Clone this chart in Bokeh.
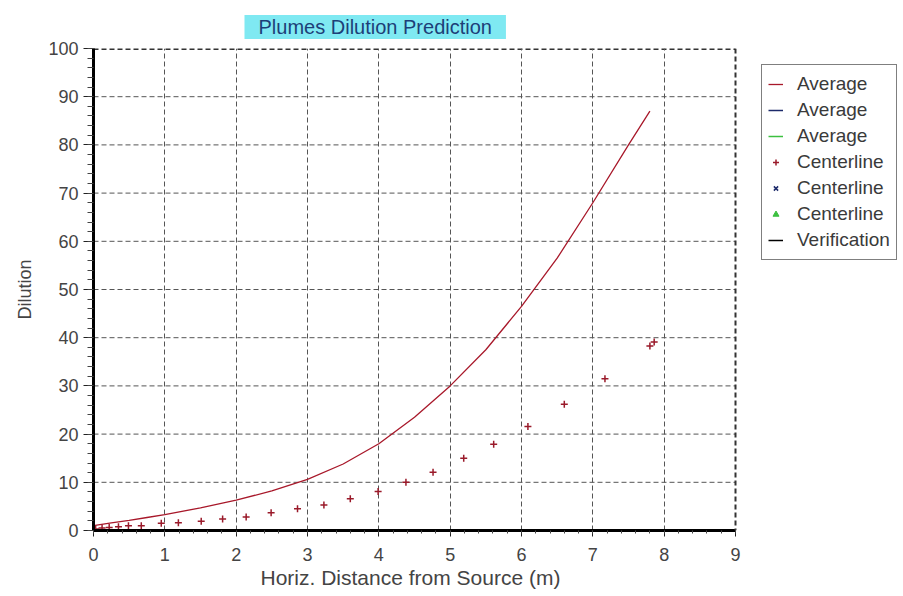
from bokeh.plotting import figure
from bokeh.models import Legend, LegendItem, Title, Span, FixedTicker, Range1d
from bokeh.embed import file_html
from bokeh.resources import INLINE

# ---- data ----
avg_x = [0, 0.25, 0.5, 0.75, 1.0, 1.5, 2.0, 2.5, 3.0, 3.5, 4.0, 4.5, 5.0, 5.5, 6.0, 6.5, 7.0, 7.5, 7.8]
avg_y = [1.0, 1.6, 2.1, 2.7, 3.3, 4.7, 6.3, 8.2, 10.6, 13.8, 18.0, 23.5, 30.0, 37.5, 46.5, 56.5, 68.0, 80.0, 87.0]

cl_x = [0.03, 0.12, 0.22, 0.35, 0.49, 0.67, 0.95, 1.19, 1.51, 1.81, 2.14, 2.49, 2.86,
        3.23, 3.6, 3.99, 4.38, 4.76, 5.19, 5.61, 6.09, 6.6, 7.17, 7.8, 7.86]
cl_y = [0.3, 0.5, 0.6, 0.8, 1.0, 1.0, 1.5, 1.6, 1.9, 2.4, 2.8, 3.7, 4.5,
        5.3, 6.6, 8.1, 10.0, 12.1, 15.0, 17.9, 21.6, 26.2, 31.5, 38.3, 39.1]

# series listed in the legend but with no visible data
no_x = [float("nan")]
no_y = [float("nan")]

x_ticks = [0, 1, 2, 3, 4, 5, 6, 7, 8, 9]
y_ticks = [0, 10, 20, 30, 40, 50, 60, 70, 80, 90, 100]
x_minor = [i * 0.2 for i in range(0, 46)]
y_minor = [i * 2 for i in range(0, 51)]

title_text = "Plumes Dilution Prediction"
x_label = "Horiz. Distance from Source (m)"
y_label = "Dilution"

FONT = "Liberation Sans"

# layout: plotting area 642 px wide for x 0..9; the frame continues to the right
# edge (blank) so the legend can sit there without being clipped
W, H = 900, 594
LEFT, TOP, BOTTOM = 93, 48, 64
AREA_W = 642
FRAME_W = W - LEFT
x_end = x_ticks[-1] * FRAME_W / AREA_W
x_lim = (x_ticks[0], x_ticks[-1])

p = figure(width=W, height=H, output_backend="svg", toolbar_location=None,
           x_range=Range1d(x_ticks[0], x_end), y_range=Range1d(y_ticks[0], y_ticks[-1]),
           min_border_left=LEFT, min_border_right=0, min_border_top=TOP, min_border_bottom=BOTTOM)
p.outline_line_color = None
p.background_fill_color = "white"
p.border_fill_color = "white"

# title box
p.title = Title(text=title_text, align="left", offset=151, standoff=19,
                text_font=FONT, text_font_size="20px", text_font_style="normal",
                text_color="#1d3f78", background_fill_color="#7fe9f2", padding=(14, 1))

# grid (horizontal lines limited to the 0..9 plotting area)
p.xgrid.ticker = FixedTicker(ticks=x_ticks[:-1])
p.xgrid.grid_line_color = "#555555"
p.xgrid.grid_line_dash = "5 3"
p.xgrid.grid_line_width = 1
p.ygrid.visible = False
gy = y_ticks[1:-1]
p.segment(x0=[x_lim[0]] * len(gy), x1=[x_lim[1]] * len(gy), y0=gy, y1=gy,
          line_color="#555555", line_dash="5 3", line_width=1, level="underlay")
# dashed top & right frame borders
p.segment(x0=[x_lim[0]], x1=[x_lim[1]], y0=[y_ticks[-1]], y1=[y_ticks[-1]],
          line_color="#333333", line_dash="5 3", line_width=3, level="underlay")
p.add_layout(Span(location=x_ticks[-1], dimension="height", line_color="#333333",
                  line_dash="5 3", line_width=2))

# curves / markers
r_avg1 = p.line(avg_x, avg_y, line_color="#a8182a", line_width=1.3)
r_avg2 = p.line(no_x, no_y, line_color="#1c2a6a", line_width=1.5)
r_avg3 = p.line(no_x, no_y, line_color="#3cc040", line_width=1.5)
r_cl1 = p.scatter(cl_x, cl_y, marker="cross", size=7, line_color="#9a1a2a", line_width=1.5)
r_cl2 = p.scatter(no_x, no_y, marker="x", size=6, line_color="#1c2a6a", line_width=1.5)
r_cl3 = p.scatter(no_x, no_y, marker="triangle", size=6, line_color="#3cc040", fill_color="#3cc040")
r_ver = p.line(no_x, no_y, line_color="black", line_width=1.5)

# axes
for ax, ticks, minor in ((p.xaxis[0], x_ticks, x_minor), (p.yaxis[0], y_ticks, y_minor)):
    ax.ticker = FixedTicker(ticks=ticks, minor_ticks=minor)
    ax.axis_line_color = "black"
    ax.axis_line_width = 3
    ax.major_tick_line_color = "#222222"
    ax.minor_tick_line_color = "#444444"
    ax.major_tick_in = 0
    ax.minor_tick_in = 0
    ax.major_label_text_font = FONT
    ax.major_label_text_font_size = "18px"
    ax.major_label_text_color = "#444444"
    ax.axis_label_text_font = FONT
    ax.axis_label_text_font_style = "normal"
    ax.axis_label_text_color = "#444444"

p.xaxis.bounds = x_lim

p.yaxis.major_tick_out = 10
p.yaxis.minor_tick_out = 6
p.yaxis.major_label_standoff = 5
p.yaxis.axis_label = y_label
p.yaxis.axis_label_text_font_size = "18px"
p.yaxis.axis_label_standoff = 10

p.xaxis.major_tick_out = 6
p.xaxis.minor_tick_out = 3
p.xaxis.major_label_standoff = 11

# x axis label, centred under the 0..9 plotting area
p.add_layout(Title(text=x_label, align="left", offset=167, standoff=1,
                   text_font=FONT, text_font_size="21px", text_font_style="normal",
                   text_color="#444444"), "below")

# legend
legend = Legend(items=[
    LegendItem(label="Average", renderers=[r_avg1]),
    LegendItem(label="Average", renderers=[r_avg2]),
    LegendItem(label="Average", renderers=[r_avg3]),
    LegendItem(label="Centerline", renderers=[r_cl1]),
    LegendItem(label="Centerline", renderers=[r_cl2]),
    LegendItem(label="Centerline", renderers=[r_cl3]),
    LegendItem(label="Verification", renderers=[r_ver]),
], location=(668, 270))
legend.label_text_font = FONT
legend.label_text_font_size = "19px"
legend.label_text_color = "#3a3a3a"
legend.label_height = 26
legend.glyph_height = 26
legend.glyph_width = 15
legend.label_standoff = 14
legend.spacing = 0
legend.padding = 6
legend.margin = 0
legend.border_line_color = "black"
legend.border_line_width = 1
legend.background_fill_color = "white"
legend.background_fill_alpha = 1
p.add_layout(legend)

open("out.html", "w").write(file_html(p, INLINE))
